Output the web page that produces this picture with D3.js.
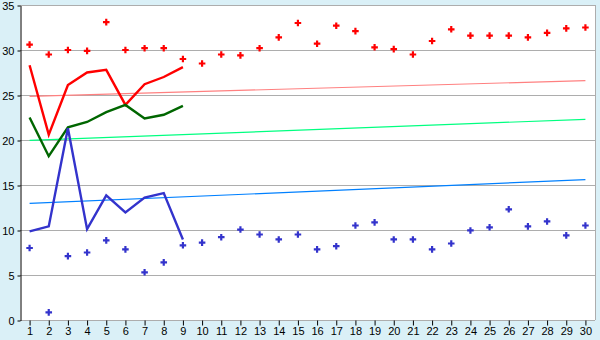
<!DOCTYPE html>
<html>
<head>
<meta charset="utf-8">
<script src="https://cdn.jsdelivr.net/npm/d3@7"></script>
<style>
  body { margin: 0; background: #daf0f7; }
  svg { display: block; font-family: "DejaVu Sans", Verdana, sans-serif; }
</style>
</head>
<body>
<svg id="chart" width="600" height="340"></svg>
<script>
const days = d3.range(1, 31);
const yTicks = [0, 5, 10, 15, 20, 25, 30, 35];

// scattered points, one per day
const redPoints = [30.6, 29.5, 30.0, 29.9, 33.1, 30.0, 30.2, 30.2, 29.0, 28.5,
  29.5, 29.4, 30.2, 31.4, 33.0, 30.7, 32.7, 32.1, 30.3, 30.1,
  29.5, 31.0, 32.3, 31.6, 31.6, 31.6, 31.4, 31.9, 32.4, 32.5];
const bluePoints = [8.0, 0.85, 7.1, 7.5, 8.85, 7.85, 5.3, 6.4, 8.3, 8.6,
  9.2, 10.05, 9.5, 8.95, 9.5, 7.85, 8.2, 10.5, 10.85, 8.95,
  8.95, 7.85, 8.5, 9.95, 10.3, 12.3, 10.4, 10.95, 9.4, 10.5];

// lines for the first 9 days
const redLine = [28.3, 20.6, 26.1, 27.5, 27.8, 23.9, 26.2, 27.0, 28.1];
const greenLine = [22.5, 18.2, 21.4, 22.0, 23.1, 23.9, 22.4, 22.8, 23.8];
const blueLine = [9.85, 10.4, 21.3, 10.1, 13.85, 11.95, 13.6, 14.1, 8.95];

// trend lines: value at day 1 and at day 30
const redTrend = [24.85, 26.6];
const greenTrend = [19.95, 22.3];
const blueTrend = [12.95, 15.6];

const svg = d3.select('#chart');
const margin = { top: 5, right: 5, bottom: 20, left: 20 };
const width = 600, height = 340;

const x = d3.scaleBand()
  .domain(days)
  .range([margin.left, width - margin.right]);
const cx = d => x(d) + x.bandwidth() / 2;

const y = d3.scaleLinear()
  .domain([0, 35])
  .range([height - margin.bottom, margin.top]);

svg.append('rect')
  .attr('x', margin.left)
  .attr('y', margin.top)
  .attr('width', width - margin.right - margin.left)
  .attr('height', y(0) - margin.top)
  .attr('fill', '#fff');

// grid
svg.append('g')
  .selectAll('line')
  .data(yTicks)
  .join('line')
    .attr('x1', margin.left)
    .attr('x2', width - margin.right)
    .attr('y1', d => y(d) + 0.5)
    .attr('y2', d => y(d) + 0.5)
    .attr('stroke', '#adadad');

svg.append('line')
  .attr('x1', width - margin.right + 0.5)
  .attr('x2', width - margin.right + 0.5)
  .attr('y1', margin.top)
  .attr('y2', y(0))
  .attr('stroke', '#adadad');

// axes
const yAxis = g => g
  .attr('transform', `translate(${margin.left + 0.5},0.5)`)
  .call(d3.axisLeft(y).tickValues(yTicks).tickSize(3).tickPadding(3).tickSizeOuter(0))
  .call(g => g.selectAll('text').attr('fill', '#000').style('font-size', '11px'));

const xAxis = g => g
  .attr('transform', `translate(0.5,${y(0) + 0.5})`)
  .call(d3.axisBottom(x).tickSize(5).tickPadding(2).tickSizeOuter(0))
  .call(g => g.select('.domain').remove())
  .call(g => g.selectAll('text').attr('fill', '#000').style('font-size', '11px'));

svg.append('g').call(xAxis);
svg.append('g').call(yAxis);

// trend lines
const trends = [[redTrend, '#ff8080'], [greenTrend, '#00ff80'], [blueTrend, '#0080ff']];
svg.append('g')
  .selectAll('line')
  .data(trends)
  .join('line')
    .attr('x1', cx(days[0]))
    .attr('x2', cx(days[days.length - 1]))
    .attr('y1', d => y(d[0][0]))
    .attr('y2', d => y(d[0][1]))
    .attr('stroke', d => d[1])
    .attr('stroke-width', 1.2);

// data lines
const line = d3.line()
  .x((d, i) => cx(days[i]))
  .y(d => y(d));

[[redLine, '#ff0000'], [greenLine, '#006600'], [blueLine, '#3333cc']].forEach(([vals, color]) => {
  svg.append('path')
    .datum(vals)
    .attr('fill', 'none')
    .attr('stroke', color)
    .attr('stroke-width', 2.4)
    .attr('stroke-linejoin', 'miter')
    .attr('d', line);
});

// point markers
const cross = d3.symbol(d3.symbolCross).size(24);
[[redPoints, '#ff0000'], [bluePoints, '#3333cc']].forEach(([vals, color]) => {
  svg.append('g')
    .attr('fill', color)
    .selectAll('path')
    .data(vals)
    .join('path')
      .attr('transform', (d, i) => `translate(${cx(days[i])},${y(d)})`)
      .attr('d', cross);
});
</script>
</body>
</html>
